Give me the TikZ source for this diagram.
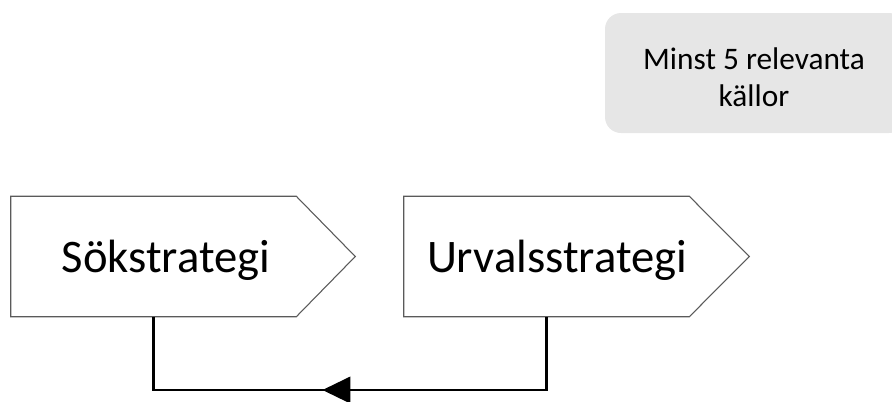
\documentclass[tikz,border=0pt]{standalone}
\usepackage{fontspec}
\setmainfont{Carlito}
\usetikzlibrary{arrows.meta,decorations.markings,calc}
\definecolor{outline}{RGB}{90,90,90}
\definecolor{notefill}{RGB}{230,230,230}
\begin{document}
\begin{tikzpicture}[x=0.75pt,y=-0.75pt,
  stepbody/.style={minimum width=285*0.75pt, minimum height=120*0.75pt, inner sep=0pt, draw=none},
  stepedge/.style={draw=outline, line width=0.8pt, fill=white},
  steplabel/.style={font=\fontsize{35}{40}\selectfont, anchor=base, inner sep=0pt},
  notebox/.style={fill=notefill, draw=none, rounded corners=12pt},
  notelabel/.style={font=\fontsize{23.5}{27.5}\selectfont, align=center, inner sep=0pt},
  loop/.style={line width=1.6pt, line join=miter,
    postaction={decorate, decoration={markings,
      mark=at position 0.551 with {\arrow{Triangle[length=21pt, width=20pt]}}}}}
]
\useasboundingbox (0,0) rectangle (892,401);

% note in the upper right corner
\begin{scope}
  \clip (0,0) rectangle (892,401);
  \fill[notebox] (605,13) rectangle (905,133);
\end{scope}
\node[notelabel] (note) at (754,77) {Minst 5 relevanta\\källor};

% the two steps, drawn as arrow-shaped boxes
\node[stepbody] (sok) at (153.5,256.5) {};
\node[stepbody] (urval) at (546.5,256.5) {};
\draw[stepedge] (sok.north west) -- (sok.north east) -- ($(sok.east)+(59,0)$)
  -- (sok.south east) -- (sok.south west) -- cycle;
\draw[stepedge] (urval.north west) -- (urval.north east) -- ($(urval.east)+(60,0)$)
  -- (urval.south east) -- (urval.south west) -- cycle;
\node[steplabel] (soklabel) at (166,272) {Sökstrategi};
\node[steplabel] (urvallabel) at (557,272) {Urvalsstrategi};

% feedback line from the second step back to the first
\coordinate (sokfoot) at (sok.south);
\coordinate (urvalfoot) at (urval.south);
\coordinate (low) at (0,390);
\draw[loop] (urvalfoot) -- (urvalfoot |- low) -- (sokfoot |- low) -- (sokfoot);
\end{tikzpicture}
\end{document}
